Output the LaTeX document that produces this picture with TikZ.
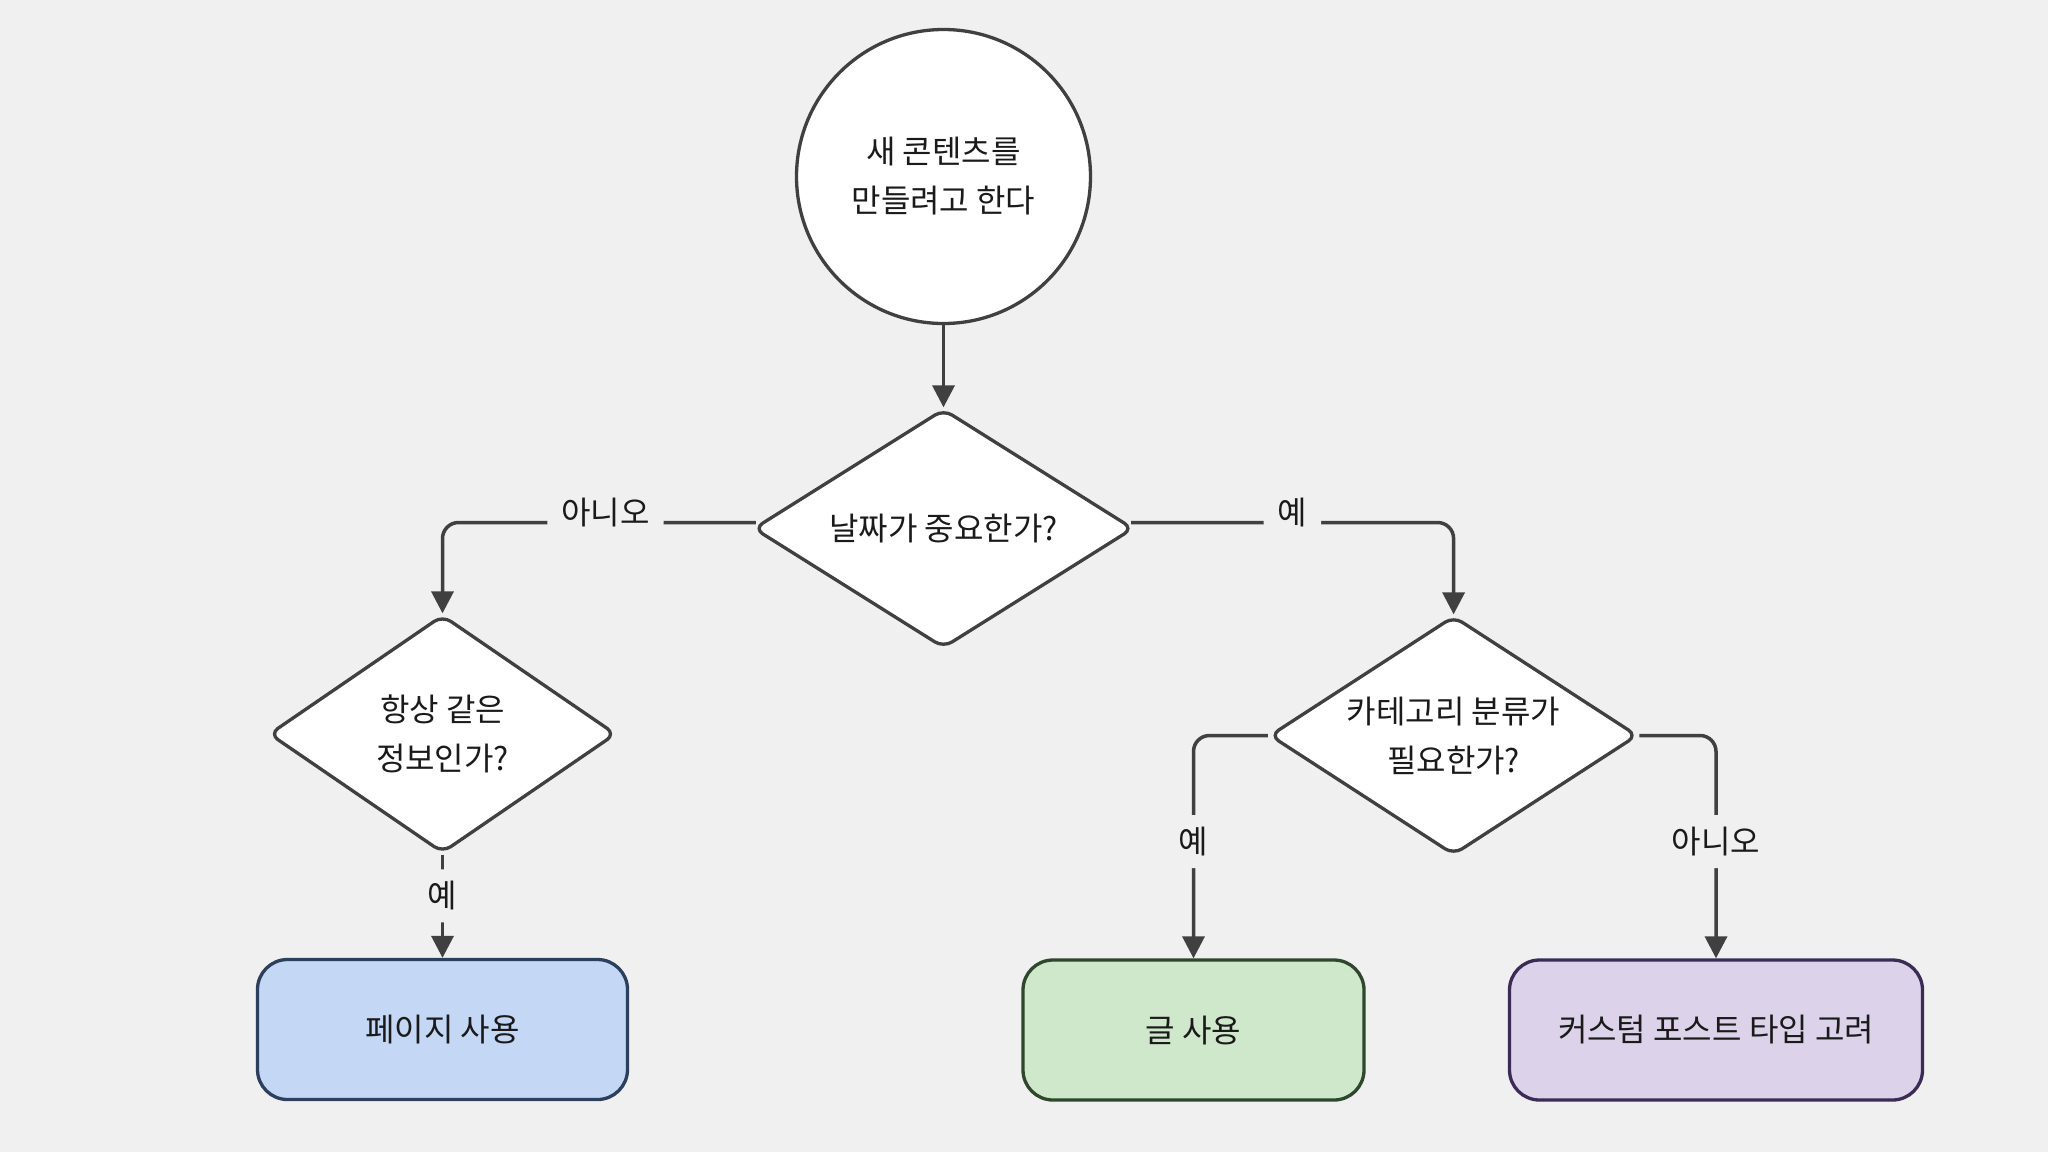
\documentclass[tikz,border=0pt]{standalone}
\usepackage{fontspec}
\newfontfamily\kr{Noto Sans CJK KR}
\usetikzlibrary{shapes.geometric,arrows.meta}
\definecolor{bg}{HTML}{F0F0F0}
\definecolor{ln}{HTML}{404040}
\definecolor{bluef}{HTML}{C4D7F4}
\definecolor{blued}{HTML}{2C3F5C}
\definecolor{greenf}{HTML}{CFE7CB}
\definecolor{greend}{HTML}{2F472D}
\definecolor{purpf}{HTML}{DCD2EA}
\definecolor{purpd}{HTML}{3A2C55}
\definecolor{txt}{HTML}{1A1A1A}
\begin{document}
\begin{tikzpicture}[x=1pt,y=-1pt,
  txtfont/.style={font=\kr\fontsize{32}{49}\selectfont, text=txt},
  startnode/.style={circle, draw=ln, line width=3.3pt, fill=white, minimum size=294pt, inner sep=0pt, align=center, txtfont},
  decision/.style={diamond, draw=ln, line width=3.3pt, fill=white, rounded corners=10pt, inner sep=0pt},
  dlabel/.style={align=center, txtfont},
  endbox/.style={rectangle, rounded corners=30pt, line width=3.3pt, minimum height=140pt, txtfont},
  conn/.style={draw=ln, line width=3.5pt, -{Triangle[length=22pt,width=22pt]}, rounded corners=16pt},
  elabel/.style={fill=bg, txtfont, inner xsep=14pt, inner ysep=12pt}
]
\fill[bg] (0,0) rectangle (2048,1152);

\node[startnode] (start) at (943.5,176.5) {새 콘텐츠를\\만들려고 한다};

\node[decision, minimum width=380pt, minimum height=239pt,
      label={[dlabel]center:{날짜가 중요한가?}}] (d1) at (943.5,528.5) {};
\node[decision, minimum width=347pt, minimum height=238pt,
      label={[dlabel]center:{항상 같은\\정보인가?}}] (d2) at (442.5,734) {};
\node[decision, minimum width=368pt, minimum height=239pt,
      label={[dlabel]center:{카테고리 분류가\\필요한가?}}] (d3) at (1453.6,735.5) {};

\node[endbox, fill=bluef, draw=blued, minimum width=370pt] (b1) at (442.5,1029.5) {페이지 사용};
\node[endbox, fill=greenf, draw=greend, minimum width=341pt] (b2) at (1193.5,1030) {글 사용};
\node[endbox, fill=purpf, draw=purpd, minimum width=413pt] (b3) at (1716,1030) {커스텀 포스트 타입 고려};

\draw[conn] (start.south) -- (d1.north);
\draw[conn] ([yshift=6pt,xshift=4pt]d1.west) -| node[elabel, pos=0.24, yshift=10pt] {아니오} (d2.north);
\draw[conn] ([yshift=6pt,xshift=-4pt]d1.east) -| node[elabel, pos=0.25, yshift=10pt] {예} (d3.north);
\draw[conn] (d2.south) -- node[elabel, pos=0.4] {예} (b1.north);
\draw[conn] (d3.west) -| node[elabel, pos=0.738] {예} (b2.north);
\draw[conn] (d3.east) -| node[elabel, pos=0.738] {아니오} (b3.north);
\end{tikzpicture}
\end{document}
